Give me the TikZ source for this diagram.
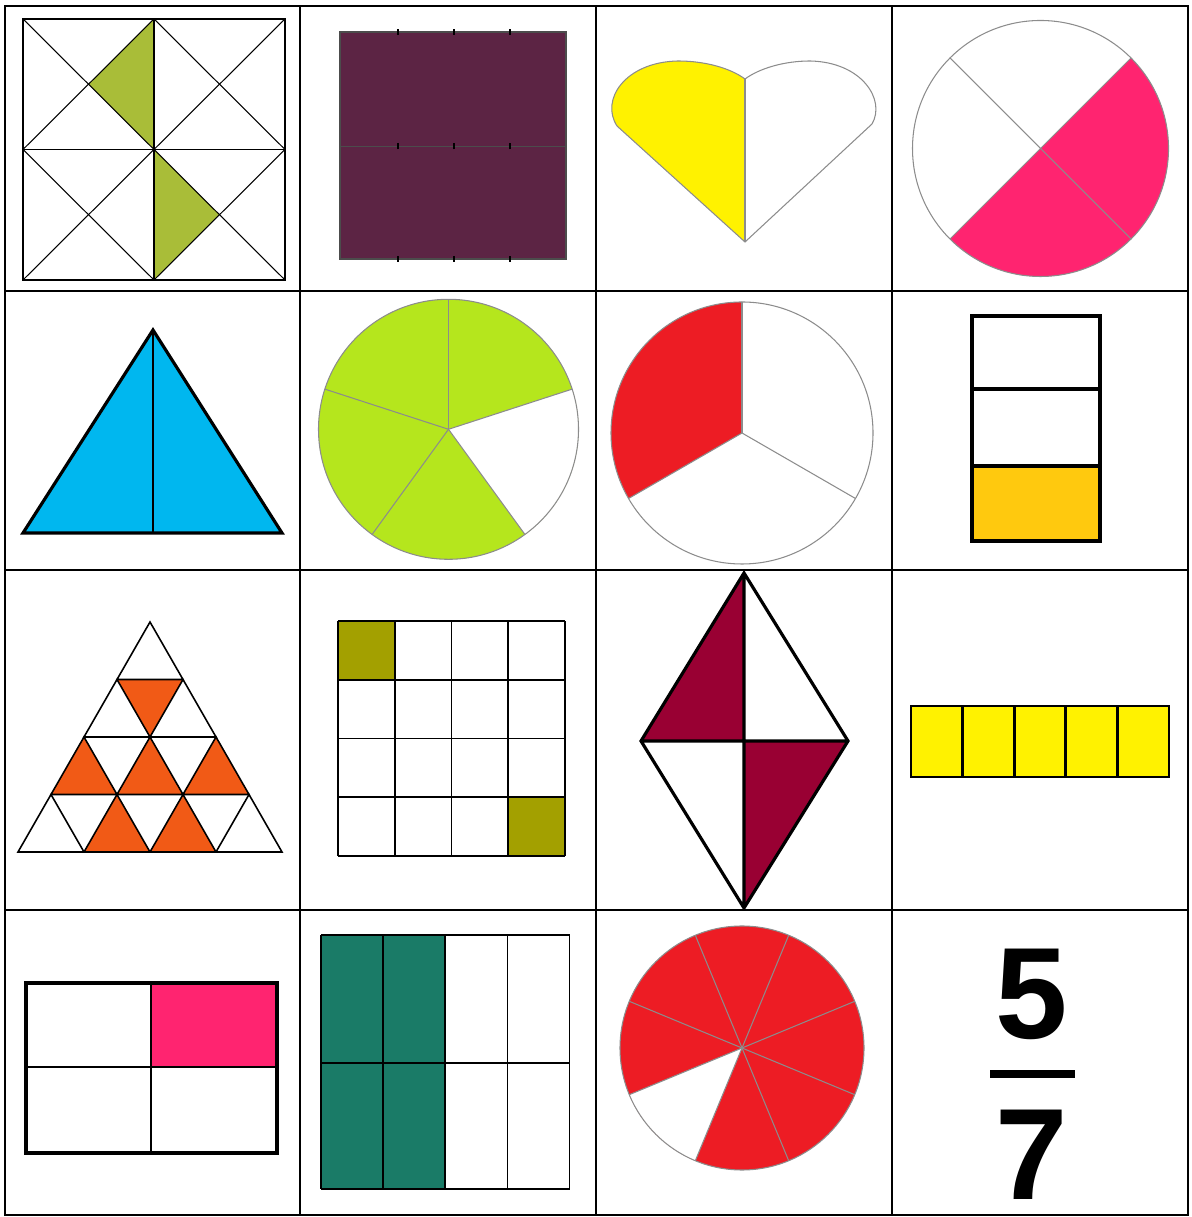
\documentclass[tikz,border=0pt]{standalone}
\usepackage{fontspec}
\usepackage{tikz}
\usetikzlibrary{positioning}
\newfontfamily\numfont{Liberation Sans}
\definecolor{frolive}{HTML}{A9BD38}
\definecolor{frplum}{HTML}{5C2444}
\definecolor{fryellow}{HTML}{FFF200}
\definecolor{frpink}{HTML}{FF2470}
\definecolor{frcyan}{HTML}{00B7EF}
\definecolor{frlime}{HTML}{B5E61D}
\definecolor{frred}{HTML}{ED1C24}
\definecolor{framber}{HTML}{FFC90E}
\definecolor{frorange}{HTML}{F15A16}
\definecolor{frkhaki}{HTML}{A3A000}
\definecolor{frmaroon}{HTML}{990033}
\definecolor{frteal}{HTML}{1A7B67}
\definecolor{frgrey}{HTML}{8C8C8C}

\begin{document}
\begin{tikzpicture}[
  x=0.02cm,y=0.02cm,
  rule/.style={line width=1.2pt,draw=black,line cap=rect},
  edge/.style={line width=0.6pt,draw=black},
  heavy/.style={line width=1.8pt,draw=black,line join=miter},
  rim/.style={line width=0.6pt,draw=frgrey},
  digit/.style={font={\numfont\bfseries\fontsize{74}{74}\selectfont},inner sep=0pt}
]
\useasboundingbox (0,0) rectangle (1192,1217);

% table
\foreach \gx in {5,300,596,892,1188} \draw[rule] (\gx,2) -- (\gx,1211);
\foreach \gy in {2,307,647,926,1211} \draw[rule] (5,\gy) -- (1188,\gy);

% row 1
\fill[frolive] (154,1198) -- (88.5,1132.75) -- (154,1067.5) -- cycle;
\fill[frolive] (154,1067.5) -- (219.5,1002.25) -- (154,937) -- cycle;
\foreach \qx in {23,154} \foreach \qy in {937,1067.5} {
  \draw[edge] (\qx,\qy) -- ++(131,130.5);
  \draw[edge] (\qx,\qy+130.5) -- ++(131,-130.5);
}
\draw[edge,line width=1pt] (23,937) rectangle (285,1198) (154,937) -- (154,1198) (23,1067.5) -- (285,1067.5);

\fill[frplum] (340,958) rectangle (566,1185);
\draw[rim,draw=black!70] (340,958) rectangle (566,1185) (340,1070.5) -- (566,1070.5);
\foreach \tx in {398,454,510} \foreach \ty in {958,1070.5,1185} \draw[edge] (\tx,\ty-3) -- (\tx,\ty+3);

\fill[fryellow] (745,975) -- (617,1091) .. controls (600,1117) and (625,1155) .. (678,1156)
  .. controls (705,1156) and (730,1149) .. (745,1138) -- cycle;
\draw[rim] (745,975) -- (617,1091) .. controls (600,1117) and (625,1155) .. (678,1156)
  .. controls (705,1156) and (730,1149) .. (745,1138)
  .. controls (760,1149) and (785,1156) .. (810,1156)
  .. controls (862,1155) and (886,1117) .. (872,1093) -- cycle;
\draw[rim] (745,975) -- (745,1138);

\fill[frpink] (1040.5,1068.5) -- +(-135:128) arc[start angle=-135,end angle=45,radius=128] -- cycle;
\draw[rim] (1040.5,1068.5) circle[radius=128];
\draw[rim] (1040.5,1068.5) +(45:128) -- +(225:128) +(135:128) -- +(-45:128);

% row 2
\filldraw[heavy,fill=frcyan] (153,887) -- (23,684) -- (282,684) -- cycle;
\draw[heavy,line width=1.2pt] (153,887) -- (153,684);

\fill[frlime] (448.5,787.7) circle[radius=130];
\fill[white] (448.5,787.7) -- +(-54:130) arc[start angle=-54,end angle=18,radius=130] -- cycle;
\draw[rim] (448.5,787.7) circle[radius=130];
\foreach \a in {90,18,-54,-126,162} \draw[rim] (448.5,787.7) -- +(\a:130);

\fill[frred] (742,784) -- +(90:131) arc[start angle=90,end angle=210,radius=131] -- cycle;
\draw[rim] (742,784) circle[radius=131];
\foreach \a in {90,210,-30} \draw[rim] (742,784) -- +(\a:131);

\fill[framber] (972,676) rectangle (1100,751);
\draw[heavy,line width=2pt] (972,676) rectangle (1100,901) (972,751) -- (1100,751) (972,828) -- (1100,828);

% row 3
\foreach \k/\j in {2/0,2/1,2/2,3/1,3/2}
  \fill[frorange] ({150-\k*33+\j*66},{595-\k*57.5}) -- ++(-33,-57.5) -- ++(66,0) -- cycle;
\fill[frorange] (117,537.5) -- (183,537.5) -- (150,480) -- cycle;
\foreach \k in {0,...,3} \foreach \j in {0,...,\k}
  \draw[edge,line width=0.9pt] ({150-\k*33+\j*66},{595-\k*57.5}) -- ++(-33,-57.5) -- ++(66,0) -- cycle;

\fill[frkhaki] (338,537) rectangle (395,596);
\fill[frkhaki] (508.5,361) rectangle (565,420);
\foreach \i in {0,...,4} {
  \draw[edge,line width=0.9pt] ({338+\i*56.75},361) -- ++(0,235);
  \draw[edge,line width=0.9pt] (338,{361+\i*58.75}) -- ++(227,0);
}

\fill[frmaroon] (744,644) -- (641,476) -- (744,476) -- cycle;
\fill[frmaroon] (744,476) -- (848,476) -- (744,309) -- cycle;
\draw[heavy] (744,644) -- (848,476) -- (744,309) -- (641,476) -- cycle
  (641,476) -- (848,476) (744,644) -- (744,309);

\filldraw[heavy,line width=1.5pt,fill=yellow] (911,440) rectangle (1169,511);
\foreach \i in {1,...,4} \draw[heavy,line width=1.5pt] ({911+\i*51.6},440) -- ++(0,71);

% row 4
\fill[frpink] (151,150) rectangle (277,234);
\draw[edge,line width=1.1pt] (151,64) -- (151,234) (26,150) -- (277,150);
\draw[heavy] (26,64) rectangle (277,234);

\fill[frteal] (321,28) rectangle (446,282);
\foreach \i in {0,...,4} \draw[edge,line width=0.9pt] ({321+\i*62.1},28) -- ++(0,254);
\foreach \gy in {28,154,282} \draw[edge,line width=0.9pt] (321,\gy) -- (569.5,\gy);

\fill[frred] (742,169) circle[radius=122];
\fill[white] (742,169) -- +(202.5:122) arc[start angle=202.5,end angle=247.5,radius=122] -- cycle;
\draw[rim] (742,169) circle[radius=122];
\foreach \a in {22.5,67.5,...,337.5} \draw[rim] (742,169) -- +(\a:122);

\node[digit] (five) at (1032,223) {5};
\node[digit,below=1.4cm of five] (seven) {7};
\fill (990,139) rectangle (1075,147);
\end{tikzpicture}
\end{document}
